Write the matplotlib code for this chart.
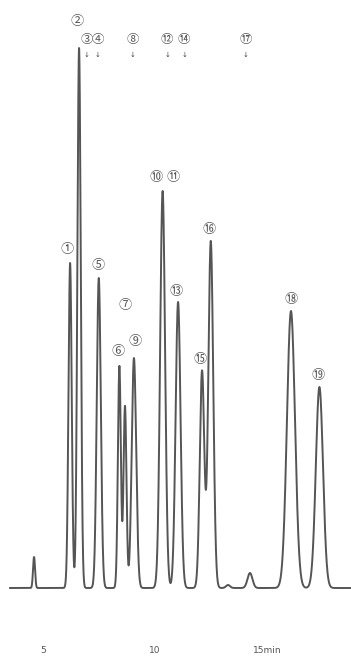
import numpy as np
import matplotlib
matplotlib.use("Agg")
import matplotlib.pyplot as plt

# ---- data (retention time in min, height in detector units, sigma in min) ----
peak_times   = [4.60, 6.21, 6.61, 7.49, 8.41, 8.66, 9.06, 10.34, 11.03, 12.10, 12.49, 13.26, 14.24, 16.07, 17.34]
peak_heights = [31,   325,  540,  310,  222,  182,  230,  397,   286,   217,   347,   3,     15,    277,   201]
peak_sigmas  = [0.045, 0.072, 0.075, 0.09, 0.066, 0.066, 0.10, 0.11, 0.11, 0.10, 0.11, 0.09, 0.11, 0.18, 0.16]

# circled labels on peaks: (label, time, height of label)
peak_labels       = ["①", "②", "⑤", "⑥", "⑦", "⑨", "⑩", "⑪", "⑬", "⑮", "⑯", "⑱", "⑲"]
peak_label_times  = [6.08, 6.53, 7.45, 8.36, 8.66, 9.11, 10.06, 10.82, 10.94, 12.00, 12.44, 16.06, 17.28]
peak_label_levels = [339, 566, 322, 236, 282, 246, 410, 410, 296, 229, 359, 289, 212]

# arrow-marked (unresolved) components
marker_labels = ["③", "④", "⑧", "⑫", "⑭", "⑰"]
marker_times  = [6.94, 7.43, 8.99, 10.55, 11.30, 14.06]

tick_values = [5, 10, 15]
tick_labels = ["5", "10", "15min"]

t_start, t_end = 3.53, 18.8

# ---- build trace ----
t = np.linspace(t_start, t_end, 6000)
signal = np.zeros_like(t)
for tr, h, s in zip(peak_times, peak_heights, peak_sigmas):
    signal += h * np.exp(-0.5 * ((t - tr) / s) ** 2)

W, H = 351, 657
fig = plt.figure(figsize=(W / 100, H / 100), dpi=100)
bottom_px = 640
ax = fig.add_axes([0, (H - bottom_px) / H, 1, bottom_px / H])
ax.set_xlim(5 - 43 / 22.4, 5 + (W - 43) / 22.4)
ax.set_ylim(-(bottom_px - 588), 588)

ax.plot(t, signal, color="#555555", lw=1.4, solid_joinstyle="round")

lab_font = dict(family=["Noto Sans CJK JP", "DejaVu Sans"], color="#555555",
                fontsize=9.5, ha="center", va="center")
for lab, x, y in zip(peak_labels, peak_label_times, peak_label_levels):
    ax.text(x, y, lab, **lab_font)

for lab, x in zip(marker_labels, marker_times):
    ax.text(x, 548, lab, **dict(lab_font, fontsize=9))
    ax.text(x, 533, "↓", family=["DejaVu Sans"], color="#444444",
            fontsize=5, ha="center", va="center")

for s in ax.spines.values():
    s.set_visible(False)
ax.set_yticks([])
ax.set_xticks(tick_values)
ax.set_xticklabels(tick_labels)
ax.tick_params(axis="x", length=0, pad=4.5, labelsize=6.5, labelcolor="#555555")

fig.savefig("out.png", dpi=100)
